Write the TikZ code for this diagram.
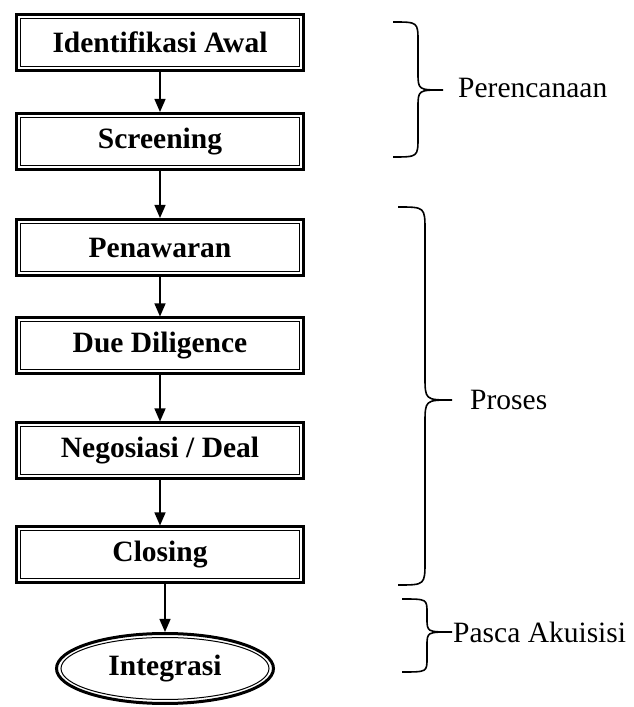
\documentclass[tikz,border=0pt]{standalone}
\usepackage{fontspec}
\setmainfont{Liberation Serif}
\usetikzlibrary{shapes.geometric,arrows.meta}
\begin{document}
\begin{tikzpicture}[x=1pt,y=1pt,
  stepbox/.style={draw, line width=3pt, rectangle, minimum width=287pt, minimum height=56pt,
    inner sep=0pt, font=\fontsize{29.5}{34}\selectfont\bfseries},
  endbox/.style={draw, line width=3pt, ellipse, minimum width=217pt, minimum height=70pt,
    inner sep=0pt, font=\fontsize{29.5}{34}\selectfont\bfseries},
  innerline/.style={line width=1pt},
  flow/.style={-{Triangle[length=13pt,width=11pt]}, line width=1.3pt},
  bracepath/.style={line width=1.6pt},
  lbl/.style={font=\fontsize{29.5}{34}\selectfont, anchor=west, inner sep=0pt}]
\useasboundingbox (0,0) rectangle (633,707);

\node[stepbox] (b1) at (160,664.5) {Identifikasi Awal};
\node[stepbox] (b2) at (160,565.5) {Screening};
\node[stepbox] (b3) at (160,459.5) {Penawaran};
\node[stepbox] (b4) at (160,361) {Due Diligence};
\node[stepbox] (b5) at (160,256) {Negosiasi / Deal};
\node[stepbox] (b6) at (160,152) {Closing};
\node[endbox] (e) at (165,38.5) {Integrasi};

\foreach \n in {b1,b2,b3,b4,b5,b6}
  \draw[innerline] ([shift={(5.5,5.5)}]\n.south west) rectangle ([shift={(-5.5,-5.5)}]\n.north east);
\draw[innerline] (e.center) ellipse [x radius=104, y radius=31];

\draw[flow] (b1) -- (b2);
\draw[flow] (b2) -- (b3);
\draw[flow] (b3) -- (b4);
\draw[flow] (b4) -- (b5);
\draw[flow] (b5) -- (b6);
\draw[flow] (b6.south -| e.north) -- (e.north);

% Perencanaan brace
\draw[bracepath] (393,685) .. controls (418,685) .. (418,665) -- (418,635)
  .. controls (418,617) .. (443,617) .. controls (418,617) .. (418,599)
  -- (418,570) .. controls (418,550) .. (393,550);
\node[lbl] (l1) at (458,619) {Perencanaan};

% Proses brace
\draw[bracepath] (398,500) .. controls (425,500) .. (425,476) -- (425,331)
  .. controls (425,307) .. (452,307) .. controls (425,307) .. (425,283)
  -- (425,146) .. controls (425,122) .. (398,122);
\node[lbl] (l2) at (470,307) {Proses};

% Pasca Akuisisi brace
\draw[bracepath] (402,108) .. controls (427,108) .. (427,94) -- (427,89)
  .. controls (427,75) .. (452,75) .. controls (427,75) .. (427,61)
  -- (427,49) .. controls (427,35) .. (402,35);
\node[lbl] (l3) at (453,75) {Pasca Akuisisi};
\end{tikzpicture}
\end{document}
